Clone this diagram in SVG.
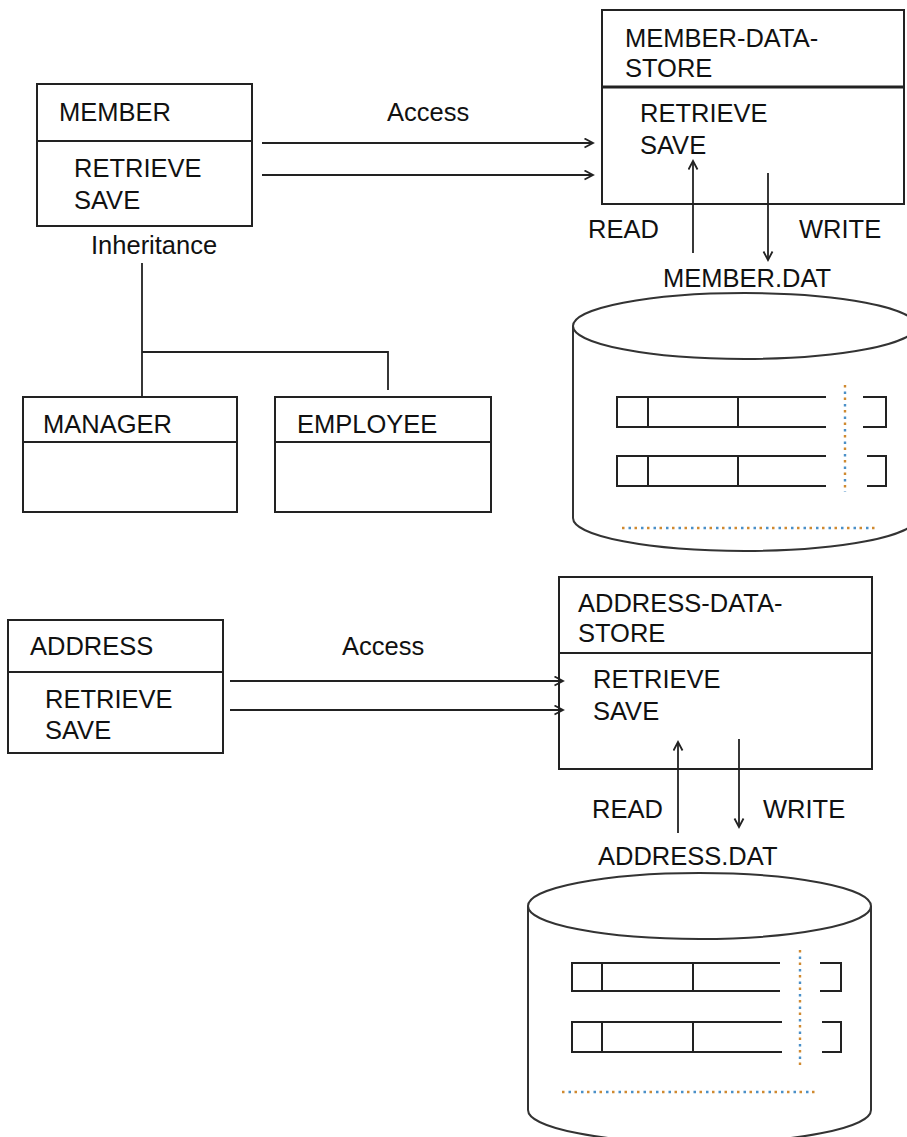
<svg xmlns="http://www.w3.org/2000/svg" width="907" height="1137" viewBox="0 0 907 1137">
<style>
text{font-family:"Liberation Sans",Arial,sans-serif;font-size:25.5px;fill:#111}
.box{fill:#fff;stroke:#222;stroke-width:2}
.sep{stroke:#222;stroke-width:2}
.sepb{stroke:#222;stroke-width:3}
.ln{stroke:#222;stroke-width:1.8;fill:none}
.arr{stroke:#222;stroke-width:1.8;fill:none;marker-end:url(#ah)}
.cyl{stroke:#333;stroke-width:2;fill:#fff}
.rec{stroke:#222;stroke-width:2;fill:none}
.dot1{stroke:#d08a30;stroke-width:2.4;stroke-dasharray:2.5 10;fill:none}
.dot2{stroke:#4a90c8;stroke-width:2.4;stroke-dasharray:2.5 10;stroke-dashoffset:6;fill:none}
</style>
<defs>
<marker id="ah" markerUnits="userSpaceOnUse" markerWidth="12" markerHeight="12" refX="9.5" refY="5.5" orient="auto">
<path d="M1,1 L9.5,5.5 L1,10" fill="none" stroke="#222" stroke-width="1.8"/>
</marker>
</defs>

<g id="member">
<rect class="box" x="37" y="84" width="215" height="142"/>
<line class="sep" x1="37" y1="141" x2="252" y2="141"/>
<text x="59" y="121">MEMBER</text>
<text x="74" y="177">RETRIEVE</text>
<text x="74" y="209">SAVE</text>
</g>

<g id="manager">
<rect class="box" x="23" y="397" width="214" height="115"/>
<line class="sep" x1="23" y1="442" x2="237" y2="442"/>
<text x="43" y="433">MANAGER</text>
</g>

<g id="employee">
<rect class="box" x="275" y="397" width="216" height="115"/>
<line class="sep" x1="275" y1="442" x2="491" y2="442"/>
<text x="297" y="433">EMPLOYEE</text>
</g>

<g id="member-data-store">
<rect class="box" x="602" y="10" width="302" height="194"/>
<line class="sepb" x1="602" y1="87" x2="904" y2="87"/>
<text x="625" y="47">MEMBER-DATA-</text>
<text x="625" y="77">STORE</text>
<text x="640" y="122">RETRIEVE</text>
<text x="640" y="154">SAVE</text>
</g>

<g id="member-dat">
<path class="cyl" d="M573,326 L573,518 A171.5,33 0 0 0 916,518 L916,326"/>
<ellipse class="cyl" cx="744.5" cy="326" rx="171.5" ry="33"/>
<path class="rec" d="M826,397 H617 V427 H826 M648,397 V427 M738,397 V427 M863,397 H886 V427 H863"/>
<path class="rec" d="M826,456 H617 V486 H826 M648,456 V486 M738,456 V486 M867,456 H886 V486 H867"/>
<line class="dot1" x1="845" y1="385" x2="845" y2="492"/>
<line class="dot2" x1="845" y1="385" x2="845" y2="492"/>
<line class="dot1" x1="622" y1="528" x2="876" y2="528"/>
<line class="dot2" x1="622" y1="528" x2="876" y2="528"/>
<text x="663" y="287">MEMBER.DAT</text>
</g>

<g id="address">
<rect class="box" x="8" y="620" width="215" height="133"/>
<line class="sep" x1="8" y1="672" x2="223" y2="672"/>
<text x="30" y="655">ADDRESS</text>
<text x="45" y="708">RETRIEVE</text>
<text x="45" y="739">SAVE</text>
</g>

<g id="address-data-store">
<rect class="box" x="559" y="577" width="313" height="192"/>
<line class="sep" x1="559" y1="653" x2="872" y2="653"/>
<text x="578" y="612">ADDRESS-DATA-</text>
<text x="578" y="642">STORE</text>
<text x="593" y="688">RETRIEVE</text>
<text x="593" y="720">SAVE</text>
</g>

<g id="address-dat">
<path class="cyl" d="M528,906 L528,1110 A171.5,33 0 0 0 871,1110 L871,906"/>
<ellipse class="cyl" cx="699.5" cy="906" rx="171.5" ry="33"/>
<path class="rec" d="M780,963 H572 V991 H780 M602,963 V991 M693,963 V991 M820,963 H841 V991 H820"/>
<path class="rec" d="M782,1022 H572 V1052 H782 M602,1022 V1052 M693,1022 V1052 M822,1022 H841 V1052 H822"/>
<line class="dot1" x1="800" y1="950" x2="800" y2="1068"/>
<line class="dot2" x1="800" y1="950" x2="800" y2="1068"/>
<line class="dot1" x1="562" y1="1092" x2="816" y2="1092"/>
<line class="dot2" x1="562" y1="1092" x2="816" y2="1092"/>
<text x="598" y="865">ADDRESS.DAT</text>
</g>

<g id="connectors">
<line class="arr" x1="262" y1="143" x2="593" y2="143"/>
<line class="arr" x1="262" y1="175" x2="593" y2="175"/>
<text x="387" y="121">Access</text>
<path class="ln" d="M142,263 V397 M142,352 H388 V390"/>
<text x="91" y="254">Inheritance</text>
<line class="arr" x1="693" y1="253" x2="693" y2="161"/>
<line class="arr" x1="768" y1="173" x2="768" y2="260"/>
<text x="588" y="238">READ</text>
<text x="799" y="238">WRITE</text>
<line class="arr" x1="230" y1="681" x2="563" y2="681"/>
<line class="arr" x1="230" y1="710" x2="563" y2="710"/>
<text x="342" y="655">Access</text>
<line class="arr" x1="678" y1="833" x2="678" y2="742"/>
<line class="arr" x1="739" y1="739" x2="739" y2="827"/>
<text x="592" y="818">READ</text>
<text x="763" y="818">WRITE</text>
</g>
</svg>
